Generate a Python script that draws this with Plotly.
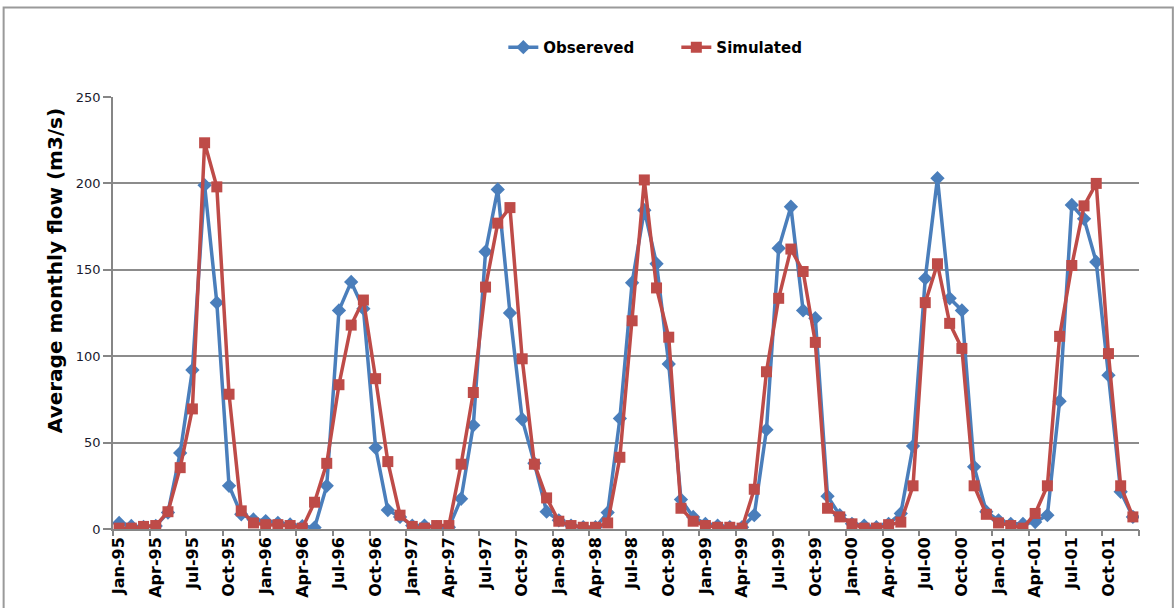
import plotly.graph_objects as go

years = ["95", "96", "97", "98", "99", "00", "01"]
month_names = ["Jan", "Feb", "Mar", "Apr", "May", "Jun", "Jul", "Aug", "Sep", "Oct", "Nov", "Dec"]
months = [f"{m}-{y}" for y in years for m in month_names]

observed = [
    3.5, 1.8, 1.2, 1.8, 9.5, 44, 92, 199, 131, 25, 8.5, 5.5,
    4.6, 3.6, 2.6, 1.6, 0.8, 25, 126.5, 143, 127.5, 47, 11, 7,
    2, 2, 1, 1, 17.5, 60, 160.5, 196.5, 125, 63.5, 38, 10,
    5, 2, 1, 1, 9.5, 64, 142.5, 184.5, 153.5, 95.5, 17, 7,
    3, 2, 1, 1, 8, 57.5, 162.5, 186.5, 126.5, 122, 19, 8,
    3, 2, 1, 3, 9, 48, 145, 203, 133.5, 126.5, 36, 10,
    5, 3, 3, 4, 8, 74, 187.5, 179.5, 154.5, 89, 21.5, 7,
]

simulated = [
    0.5, 0.5, 1.5, 2, 10, 35.5, 69.5, 223.5, 198, 78, 10.5, 3.5,
    2.5, 2.5, 2, 0.5, 15.5, 38, 83.5, 118, 132.5, 87, 39, 8,
    1.5, 0.5, 2, 2, 37.5, 79, 140, 177, 186, 98.5, 37.5, 18,
    4.5, 2, 1, 1, 3.5, 41.5, 120.5, 202, 139.5, 111, 12, 4.5,
    2, 1, 1, 0.5, 23, 91, 133.5, 162, 149, 108, 12, 7,
    3, 0.5, 0.5, 2.5, 4, 25, 131, 153.5, 119, 104.5, 25, 8.5,
    3.5, 2, 0.5, 9, 25, 111.5, 152.5, 187, 200, 101.5, 25, 7,
]

y_ticks = [0, 50, 100, 150, 200, 250]

idx = list(range(len(months)))
label_idx = idx[::3]
label_text = [months[i] for i in label_idx]
boundary_ticks = [i - 0.5 for i in label_idx] + [len(months) - 0.5]

FONT = "DejaVu Sans"

fig = go.Figure()
fig.add_trace(go.Scatter(
    x=idx, y=observed, mode="lines+markers", name="Obsereved",
    line=dict(color="#4A7EBB", width=3.5),
    marker=dict(symbol="diamond", size=11, color="#4A7EBB"),
))
fig.add_trace(go.Scatter(
    x=idx, y=simulated, mode="lines+markers", name="Simulated",
    line=dict(color="#BE4B48", width=3.5),
    marker=dict(symbol="square", size=11, color="#BE4B48"),
))
# invisible trace to activate secondary x axis (boundary tick marks)
fig.add_trace(go.Scatter(x=[idx[0]], y=[observed[0]], xaxis="x2", mode="markers",
                         marker=dict(opacity=0), showlegend=False, hoverinfo="skip"))

fig.update_layout(
    width=1176, height=608,
    margin=dict(l=113, r=37, t=97, b=79, autoexpand=False),
    paper_bgcolor="white", plot_bgcolor="white",
    font=dict(family=FONT, color="#000000"),
    legend=dict(
        orientation="h", xref="container", yref="container",
        x=0.428, y=0.922, xanchor="left", yanchor="middle",
        font=dict(size=15, family=FONT, color="#000000", weight="bold"),
        itemwidth=30, entrywidth=128, bgcolor="rgba(0,0,0,0)",
    ),
    xaxis=dict(
        range=[-0.5, len(months) - 0.5], automargin=False,
        tickmode="array", tickvals=label_idx, ticktext=label_text,
        tickangle=-90, ticks="", showgrid=False,
        showline=True, linecolor="#868686", linewidth=1.5,
        tickfont=dict(size=16, family=FONT, color="#000000", weight="bold"),
        zeroline=False,
    ),
    xaxis2=dict(
        overlaying="x", matches="x", side="bottom", automargin=False,
        range=[-0.5, len(months) - 0.5],
        tickmode="array", tickvals=boundary_ticks, ticktext=[""] * len(boundary_ticks),
        ticks="outside", ticklen=6, tickcolor="#868686", tickwidth=1.5,
        showgrid=False, showline=False, zeroline=False, showticklabels=False,
    ),
    yaxis=dict(
        range=[0, 250], tickmode="array", tickvals=y_ticks, automargin=False,
        ticks="outside", ticklen=8, tickcolor="#868686", tickwidth=1.5,
        showgrid=True, gridcolor="#8C8C8C", gridwidth=1.5,
        showline=True, linecolor="#868686", linewidth=1.5,
        zeroline=False,
        tickfont=dict(size=13, family=FONT, color="#1a1a2e"),
    ),
    annotations=[
        dict(text="Average monthly flow (m3/s)", xref="paper", yref="paper",
             x=-0.0565, y=0.597, xanchor="center", yanchor="middle",
             textangle=-90, showarrow=False,
             font=dict(size=20, family=FONT, color="#000000", weight="bold")),
    ],
    shapes=[
        dict(type="path", xref="paper", yref="paper",
             path="M -0.1066,-0.3 L -0.1066,1.2072 L 1.0330,1.2072 L 1.0330,-0.3",
             line=dict(color="#9A9A9A", width=2)),
    ],
)

fig.write_html("out.html")
